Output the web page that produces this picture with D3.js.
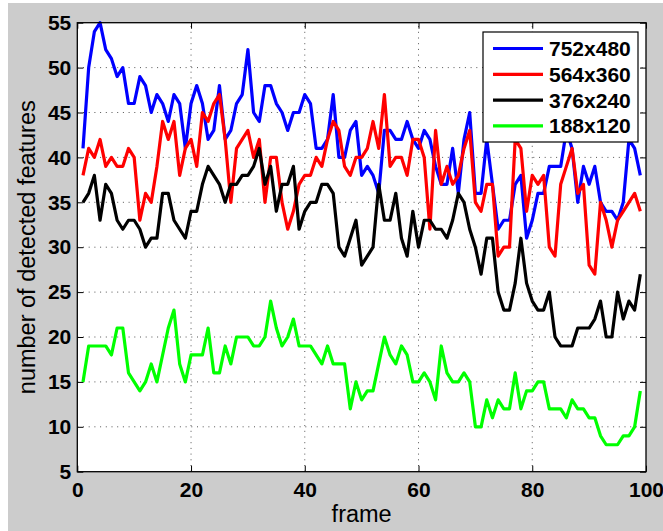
<!DOCTYPE html>
<html>
<head>
<meta charset="utf-8">
<script src="https://cdn.jsdelivr.net/npm/d3@7"></script>
<style>
  body { margin: 0; background: #fff; }
  text { font-family: "Liberation Sans", Helvetica, Arial, sans-serif; }
  .tick-label { font-weight: bold; font-size: 21px; fill: #000; }
  .axis-label { font-size: 23.5px; fill: #000; }
  .grid { stroke: #555; stroke-width: 1; stroke-dasharray: 1,4.7; }
  .series { fill: none; stroke-width: 3.2; stroke-linejoin: round; }
</style>
</head>
<body>
<script>
let WIDTH = 663,
    HEIGHT = 531;

// frame numbers
const frames = d3.range(1, 100);

const seriesNames = ["752x480", "564x360", "376x240", "188x120"];
const seriesColors = ["#0000ff", "#ff0000", "#000000", "#00ff00"];

const res752 = [41,50,54,55,52,51,49,50,46,46, 49,48,45,47,46,44,47,46,41,46,
  48,46,42,43,48,42,43,46,47,52, 45,44,48,48,46,45,43,45,45,47,
  46,41,41,42,47,40,40,43,44,38, 39,38,36,43,43,42,42,44,42,41,
  43,42,39,37,37,41,36,42,45,36, 36,42,37,32,33,33,37,38,31,33,
  36,36,39,39,39,43,41,35,39,37, 39,35,34,34,33,35,42,41,38];

const res564 = [38,41,40,42,39,40,39,39,41,40, 33,36,35,39,44,42,44,38,41,42,
  39,45,44,46,47,42,35,41,42,43, 40,42,35,40,40,35,32,34,37,38,
  38,40,39,42,44,43,39,38,40,40, 41,44,41,47,39,40,40,38,42,42,
  40,32,43,37,39,37,38,41,43,35, 34,37,37,29,30,30,42,41,34,38,
  37,38,30,29,37,39,41,36,37,28, 27,35,33,30,33,34,35,36,34];

const res376 = [35,36,38,33,37,36,33,32,33,33, 32,30,31,31,36,36,33,32,31,34,
  34,37,39,38,37,35,37,37,38,38, 39,41,37,39,34,37,37,39,32,34,
  35,35,37,37,36,30,29,31,33,28, 29,30,37,33,33,36,31,29,34,30,
  33,33,32,32,31,33,36,35,32,30, 27,31,31,25,23,23,26,31,26,24,
  23,23,25,20,19,19,19,21,21,21, 22,24,20,20,25,22,24,23,27];

const res188 = [15,19,19,19,19,18,21,21,16,15, 14,15,17,15,18,21,23,17,15,18,
  18,18,21,16,16,19,17,20,20,20, 19,19,20,24,21,19,20,22,19,19,
  19,18,17,19,17,17,17,12,15,13, 14,14,17,20,18,17,19,18,15,15,
  16,15,13,19,16,15,15,16,15,10, 10,13,11,13,12,12,16,12,14,14,
  15,15,12,12,12,11,13,12,12,11, 11,9,8,8,8,9,9,10,14];

const xTicks = [0, 20, 40, 60, 80, 100];
const yTicks = [5, 10, 15, 20, 25, 30, 35, 40, 45, 50, 55];

let margin = {
  top: 22.7,
  bottom: 531 - 471.7,
  left: 77.3,
  right: 663 - 646
};

let svg = d3.select("body").append("svg")
  .attr("width", WIDTH)
  .attr("height", HEIGHT);

// figure background
svg.append("rect")
  .attr("x", 8)
  .attr("y", 3)
  .attr("width", WIDTH - 8)
  .attr("height", HEIGHT - 3)
  .attr("fill", "#cccccc");

let x = d3.scaleLinear()
  .domain([0, 100])
  .range([margin.left, WIDTH - margin.right]);

let y = d3.scaleLinear()
  .domain([5, 55])
  .range([HEIGHT - margin.bottom, margin.top]);

svg.append("rect")
  .attr("x", x(0))
  .attr("y", y(55))
  .attr("width", x(100) - x(0))
  .attr("height", y(5) - y(55))
  .attr("fill", "#fff");

/*
  Grid
*/
svg.selectAll(".gridx")
  .data(xTicks.slice(1, -1))
  .enter().append("line")
  .attr("class", "grid")
  .attr("x1", d => x(d)).attr("x2", d => x(d))
  .attr("y1", y(5)).attr("y2", y(55));

svg.selectAll(".gridy")
  .data(yTicks.slice(1, -1))
  .enter().append("line")
  .attr("class", "grid")
  .attr("y1", d => y(d)).attr("y2", d => y(d))
  .attr("x1", x(0)).attr("x2", x(100));

/*
  Axes, ticks point inward on all four sides
*/
let tickLen = 6;

svg.append("g")
  .attr("transform", "translate(0," + y(5) + ")")
  .call(d3.axisBottom(x).tickValues(xTicks).tickSizeInner(-tickLen).tickSizeOuter(0).tickPadding(10));

svg.append("g")
  .attr("transform", "translate(0," + y(55) + ")")
  .call(d3.axisTop(x).tickValues(xTicks).tickSizeInner(-tickLen).tickSizeOuter(0).tickFormat(""));

svg.append("g")
  .attr("transform", "translate(" + x(0) + ",0)")
  .call(d3.axisLeft(y).tickValues(yTicks).tickSizeInner(-tickLen).tickSizeOuter(0).tickPadding(6));

svg.append("g")
  .attr("transform", "translate(" + x(100) + ",0)")
  .call(d3.axisRight(y).tickValues(yTicks).tickSizeInner(-tickLen).tickSizeOuter(0).tickFormat(""));

svg.selectAll(".domain").remove();
svg.selectAll(".tick line").attr("stroke", "#000");
svg.selectAll(".tick text")
  .attr("class", "tick-label")
  .attr("font-family", null)
  .attr("font-size", null);

/*
  Lines
*/
let allSeries = [res752, res564, res376, res188];

let line = d3.line()
  .x((d, i) => x(frames[i]))
  .y(d => y(d));

svg.selectAll(".series")
  .data(allSeries)
  .enter().append("path")
  .attr("class", "series")
  .attr("d", line)
  .attr("stroke", (d, i) => seriesColors[i]);

// box
svg.append("rect")
  .attr("x", x(0))
  .attr("y", y(55))
  .attr("width", x(100) - x(0))
  .attr("height", y(5) - y(55))
  .attr("fill", "none")
  .attr("stroke", "#000")
  .attr("stroke-width", 1.3);

/*
  Labels
*/
svg.append("text")
  .attr("class", "axis-label")
  .attr("x", (x(0) + x(100)) / 2)
  .attr("y", 522)
  .attr("text-anchor", "middle")
  .text("frame");

svg.append("text")
  .attr("class", "axis-label")
  .attr("transform", "translate(35," + (y(5) + y(55)) / 2 + ") rotate(-90)")
  .attr("text-anchor", "middle")
  .text("number of detected features");

/*
  Legend
*/
let legend = svg.append("g")
  .attr("transform", "translate(483,32)");

legend.append("rect")
  .attr("width", 155)
  .attr("height", 110)
  .attr("fill", "#fff")
  .attr("stroke", "#000")
  .attr("stroke-width", 1.2);

let rows = legend.selectAll(".legendRow")
  .data(seriesNames)
  .enter().append("g")
  .attr("transform", (d, i) => "translate(0," + (16.5 + i * 25.8) + ")");

rows.append("line")
  .attr("x1", 10).attr("x2", 60)
  .attr("y1", 0).attr("y2", 0)
  .attr("stroke", (d, i) => seriesColors[i])
  .attr("stroke-width", 3.2);

rows.append("text")
  .attr("class", "tick-label")
  .attr("x", 66)
  .attr("y", 7.5)
  .text(d => d);
</script>
</body>
</html>
